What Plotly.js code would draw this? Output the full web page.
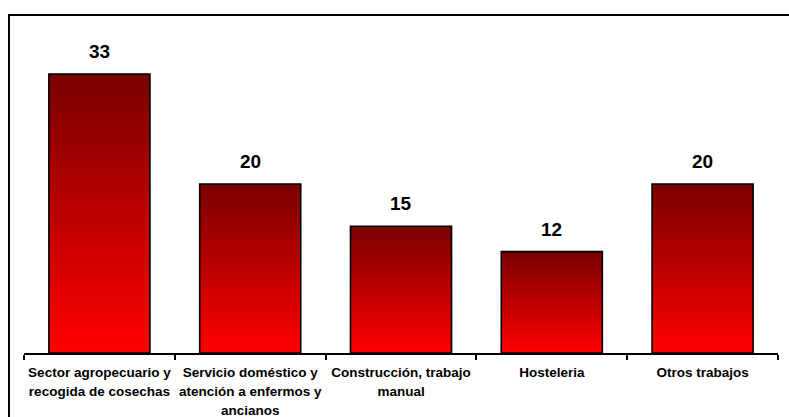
<!DOCTYPE html>
<html>
<head>
<meta charset="utf-8">
<script src="https://cdn.plot.ly/plotly-3.0.1.min.js"></script>
<style>
  html, body { margin: 0; padding: 0; background: #fff; overflow: hidden; }
  #wrap { position: relative; width: 789px; height: 417px; }
  #chart { width: 789px; height: 417px; }
  #frame { position: absolute; left: 8px; top: 14px; width: 800px; height: 420px;
           border-top: 2px solid #000; border-left: 2px solid #000; pointer-events: none; }
</style>
</head>
<body>
<div id="wrap">
  <div id="chart"></div>
  <div id="frame"></div>
</div>
<script>
const categories = [
  "Sector agropecuario y<br>recogida de cosechas",
  "Servicio doméstico y<br>atención a enfermos y<br>ancianos",
  "Construcción, trabajo<br>manual",
  "Hosteleria",
  "Otros trabajos"
];
const values = [33, 20, 15, 12, 20];

const trace = {
  type: "bar",
  x: categories,
  y: values,
  marker: { color: "#ff0000", line: { color: "#000", width: 1.6 } },
  hoverinfo: "none"
};

const annotations = categories.map((c, i) => ({
  x: c, y: values[i], xref: "x", yref: "y",
  text: String(values[i]), showarrow: false,
  yanchor: "bottom", yshift: 10,
  font: { family: "Arial, 'Liberation Sans', sans-serif", size: 19, color: "#000", weight: "bold" }
}));

const layout = {
  width: 789, height: 417,
  margin: { l: 24, r: 11, t: 15, b: 64 },
  paper_bgcolor: "#fff", plot_bgcolor: "#fff",
  showlegend: false,
  bargap: 0.33,
  font: { family: "Arial, 'Liberation Sans', sans-serif", color: "#000" },
  xaxis: {
    type: "category",
    range: [-0.5, 4.5],
    showline: true, linecolor: "#000", linewidth: 2,
    ticks: "outside", tickson: "boundaries", ticklen: 5, tickwidth: 2, tickcolor: "#000",
    tickangle: 0,
    ticklabelstandoff: 6,
    tickfont: { size: 13.5, weight: "bold", color: "#000", family: "Arial, 'Liberation Sans', sans-serif" },
    showgrid: false, zeroline: false, fixedrange: true
  },
  yaxis: {
    range: [0, 40], visible: false, showgrid: false, zeroline: false, fixedrange: true
  },
  annotations: annotations
};

Plotly.newPlot("chart", [trace], layout, { staticPlot: true, displayModeBar: false }).then(gd => {
  const svg = gd.querySelector("svg.main-svg");
  const ns = "http://www.w3.org/2000/svg";
  let defs = svg.querySelector("defs");
  if (!defs) { defs = document.createElementNS(ns, "defs"); svg.insertBefore(defs, svg.firstChild); }
  const grad = document.createElementNS(ns, "linearGradient");
  grad.setAttribute("id", "barGrad");
  grad.setAttribute("x1", "0"); grad.setAttribute("y1", "0");
  grad.setAttribute("x2", "0"); grad.setAttribute("y2", "1");
  [["0", "#7a0000"], ["1", "#ff0000"]].forEach(([o, c]) => {
    const s = document.createElementNS(ns, "stop");
    s.setAttribute("offset", o); s.setAttribute("stop-color", c);
    grad.appendChild(s);
  });
  defs.appendChild(grad);
  gd.querySelectorAll(".bars .point path").forEach(p => { p.style.fill = "url(#barGrad)"; });
  // widen line spacing of multi-line tick labels
  gd.querySelectorAll(".xtick text tspan.line").forEach(t => {
    const dy = t.getAttribute("dy");
    if (dy && dy !== "0em") t.setAttribute("dy", (parseFloat(dy) / 1.3 * 1.41) + "em");
  });
});
</script>
</body>
</html>
